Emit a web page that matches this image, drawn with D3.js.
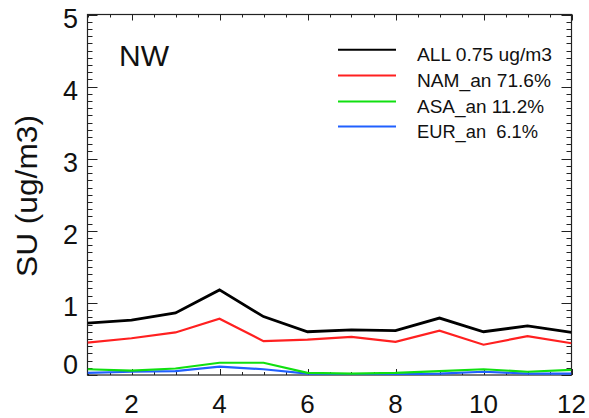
<!DOCTYPE html>
<html>
<head>
<meta charset="utf-8">
<script src="https://cdn.jsdelivr.net/npm/d3@7"></script>
<style>
  html, body { margin: 0; padding: 0; background: #fff; }
  svg { display: block; }
  text { font-family: "Liberation Sans", Arial, Helvetica, sans-serif; fill: #111; }
</style>
</head>
<body>
<svg id="chart" width="589" height="418"></svg>
<script>
// ---- data ----
const months = [1, 2, 3, 4, 5, 6, 7, 8, 9, 10, 11, 12];
const allValues = [0.72, 0.76, 0.86, 1.18, 0.81, 0.60, 0.625, 0.615, 0.79, 0.60, 0.68, 0.59];
const namValues = [0.45, 0.51, 0.59, 0.78, 0.47, 0.49, 0.53, 0.46, 0.615, 0.42, 0.54, 0.44];
const asaValues = [0.08, 0.06, 0.09, 0.17, 0.17, 0.03, 0.02, 0.03, 0.055, 0.08, 0.045, 0.07];
const eurValues = [0.03, 0.045, 0.055, 0.115, 0.08, 0.02, 0.01, 0.01, 0.02, 0.045, 0.02, 0.02];
const seriesNames = ["ALL 0.75 ug/m3", "NAM_an 71.6%", "ASA_an 11.2%", "EUR_an  6.1%"];
const seriesColors = ["#000000", "#ff2020", "#10e010", "#2060ff"];
const xTickValues = [2, 4, 6, 8, 10, 12];
const yTickValues = [0, 1, 2, 3, 4, 5];
const regionLabel = "NW";
const yTitle = "SU (ug/m3)";

const series = [allValues, namValues, asaValues, eurValues];

// ---- layout ----
const L = 87.5, R = 571.5, T = 14.5, B = 375;
const svg = d3.select("#chart");
const x = d3.scaleLinear().domain([1, 12]).range([L, R]);
const y = d3.scaleLinear().domain([0, 5]).range([B, T]);

// minor ticks
const xMinor = d3.range(1, 12.001, 0.5);
const yMinor = d3.range(0, 5.001, 0.1).map(v => Math.round(v * 10) / 10);

const tickG = svg.append("g").attr("stroke", "#222").attr("stroke-width", 1);
// x ticks bottom and top
xMinor.forEach(v => {
  const major = xTickValues.includes(v);
  const len = major ? 6 : 3;
  const px = Math.round(x(v)) + 0.5;
  tickG.append("line").attr("x1", px).attr("x2", px).attr("y1", B).attr("y2", B - len);
  tickG.append("line").attr("x1", px).attr("x2", px).attr("y1", T).attr("y2", T + len);
});
// y ticks left and right
yMinor.forEach(v => {
  const major = Math.abs(v - Math.round(v)) < 1e-6;
  const len = major ? 10 : 5;
  const py = Math.round(y(v)) + 0.5;
  tickG.append("line").attr("x1", L).attr("x2", L + len).attr("y1", py).attr("y2", py);
  tickG.append("line").attr("x1", R).attr("x2", R - len).attr("y1", py).attr("y2", py);
});

// frame
svg.append("rect")
  .attr("x", L).attr("y", T).attr("width", R - L).attr("height", B - T)
  .attr("fill", "none").attr("stroke", "#222").attr("stroke-width", 1.2);

// tick labels
svg.append("g").selectAll("text").data(xTickValues).join("text")
  .attr("x", d => x(d)).attr("y", 413)
  .attr("text-anchor", "middle").attr("font-size", 26)
  .text(d => d);

svg.append("g").selectAll("text").data(yTickValues).join("text")
  .attr("x", 78).attr("y", d => y(d) + (d === 0 ? -10 : 4))
  .attr("dominant-baseline", "central")
  .attr("text-anchor", "end").attr("font-size", 27)
  .text(d => d);

// y title
svg.append("text")
  .attr("transform", "translate(37,196) rotate(-90)")
  .attr("text-anchor", "middle").attr("font-size", 29)
  .attr("textLength", 162).attr("lengthAdjust", "spacingAndGlyphs")
  .text(yTitle);

// lines
const line = d3.line().x((d, i) => x(months[i])).y(d => y(d));
svg.append("clipPath").attr("id", "plotclip")
  .append("rect").attr("x", L).attr("y", T).attr("width", R - L).attr("height", B - T);
const lineG = svg.append("g").attr("clip-path", "url(#plotclip)");
// draw bottom-up so black on top
[3, 2, 1, 0].forEach(k => {
  lineG.append("path")
    .datum(series[k])
    .attr("d", line)
    .attr("fill", "none")
    .attr("stroke", seriesColors[k])
    .attr("stroke-width", k === 0 ? 2.8 : 2.2)
    .attr("stroke-linejoin", "miter");
});

// region label
svg.append("text").attr("x", 119).attr("y", 66).attr("font-size", 30).text(regionLabel);

// legend
const legendBaselines = [60.7, 86.5, 112.5, 137.5];
const legendWidths = [135, 134, 127, 121];
seriesNames.forEach((name, k) => {
  const by = legendBaselines[k];
  svg.append("line")
    .attr("x1", 338).attr("x2", 396)
    .attr("y1", by - 11).attr("y2", by - 11)
    .attr("stroke", seriesColors[k]).attr("stroke-width", 2);
  svg.append("text")
    .attr("x", 417).attr("y", by)
    .attr("font-size", 17.5)
    .attr("xml:space", "preserve")
    .style("white-space", "pre")
    .attr("textLength", legendWidths[k]).attr("lengthAdjust", "spacingAndGlyphs")
    .text(name);
});
</script>
</body>
</html>
